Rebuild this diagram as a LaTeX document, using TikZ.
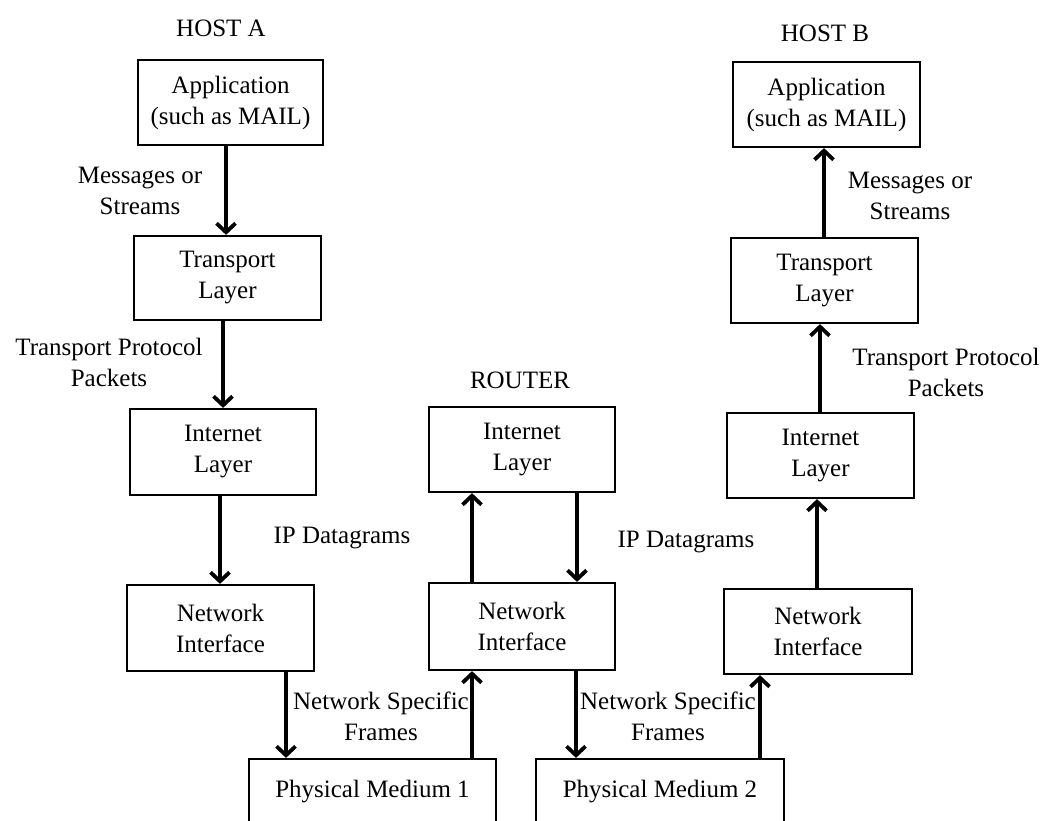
\documentclass[tikz,border=0pt]{standalone}
\usepackage{fontspec}
\setmainfont{Liberation Serif}
\usetikzlibrary{arrows.meta}
\begin{document}
\begin{tikzpicture}[x=1pt,y=-1pt,
  every node/.style={font=\fontsize{25}{31}\selectfont},
  layer/.style={draw, line width=2.2pt, align=center, inner sep=0pt},
  lbl/.style={align=center, inner sep=0pt},
  arr/.style={line width=3.5pt, -{Straight Barb[length=9pt,width=19pt,line width=3.8pt]}}]
\useasboundingbox (0,0) rectangle (1047,820);
\clip (0,0) rectangle (1047,820);

% titles
\node[lbl] (hostA) at (221,28) {HOST A};
\node[lbl] (router) at (520,380) {ROUTER};
\node[lbl] (hostB) at (825,33) {HOST B};

% host A stack
\node[layer, minimum width=185pt, minimum height=85pt] (appA) at (230.5,102.5) {Application\\(such as MAIL)};
\node[layer, minimum width=187pt, minimum height=84pt] (trA) at (227.5,278) {Transport\\Layer};
\node[layer, minimum width=186pt, minimum height=86pt] (ilA) at (223,452) {Internet\\Layer};
\node[layer, minimum width=187pt, minimum height=86pt] (niA) at (220.5,628) {Network\\Interface};

% router stack
\node[layer, minimum width=186pt, minimum height=85pt] (ilR) at (522,449.5) {Internet\\Layer};
\node[layer, minimum width=186pt, minimum height=87pt] (niR) at (522,626.5) {Network\\Interface};

% host B stack
\node[layer, minimum width=187pt, minimum height=85pt] (appB) at (826.5,104.5) {Application\\(such as MAIL)};
\node[layer, minimum width=187pt, minimum height=85pt] (trB) at (824.5,280.5) {Transport\\Layer};
\node[layer, minimum width=187pt, minimum height=85pt] (ilB) at (820.5,455.5) {Internet\\Layer};
\node[layer, minimum width=188pt, minimum height=85pt] (niB) at (818,631.5) {Network\\Interface};

% physical media (running past the lower edge)
\node[layer, minimum width=247pt, minimum height=66pt] (pm1) at (372.5,792) {Physical Medium 1};
\node[layer, minimum width=248pt, minimum height=66pt] (pm2) at (660,792) {Physical Medium 2};

% connector labels
\node[lbl] (msgA) at (140,191) {Messages or\\Streams};
\node[lbl] (tppA) at (109,362) {Transport Protocol\\Packets};
\node[lbl] (ipL) at (342,538) {IP Datagrams};
\node[lbl] (ipR) at (686,542) {IP Datagrams};
\node[lbl] (nsfL) at (381,716) {Network Specific\\Frames};
\node[lbl] (nsfR) at (668,716) {Network Specific\\Frames};
\node[lbl] (msgB) at (910,196) {Messages or\\Streams};
\node[lbl] (tppB) at (946,372) {Transport Protocol\\Packets};

% host A, downward
\draw[arr] ([xshift=-4.5pt]appA.south) -- ([xshift=-4.5pt]appA.south |- trA.north);
\draw[arr] ([xshift=-4.5pt]trA.south) -- ([xshift=-4.5pt]trA.south |- ilA.north);
\draw[arr] ([xshift=-3pt]ilA.south) -- ([xshift=-3pt]ilA.south |- niA.north);
\draw[arr] ([xshift=65.5pt]niA.south) -- ([xshift=65.5pt]niA.south |- pm1.north);

% router
\draw[arr] ([xshift=-50pt]niR.south |- pm1.north) -- ([xshift=-50pt]niR.south);
\draw[arr] ([xshift=-50pt]niR.north) -- ([xshift=-50pt]niR.north |- ilR.south);
\draw[arr] ([xshift=55pt]ilR.south) -- ([xshift=55pt]ilR.south |- niR.north);
\draw[arr] ([xshift=54pt]niR.south) -- ([xshift=54pt]niR.south |- pm2.north);

% host B, upward
\draw[arr] ([xshift=-58pt]niB.south |- pm2.north) -- ([xshift=-58pt]niB.south);
\draw[arr] ([xshift=-1pt]niB.north) -- ([xshift=-1pt]niB.north |- ilB.south);
\draw[arr] ([xshift=-0.5pt]ilB.north) -- ([xshift=-0.5pt]ilB.north |- trB.south);
\draw[arr] ([xshift=-0.5pt]trB.north) -- ([xshift=-0.5pt]trB.north |- appB.south);
\end{tikzpicture}
\end{document}
